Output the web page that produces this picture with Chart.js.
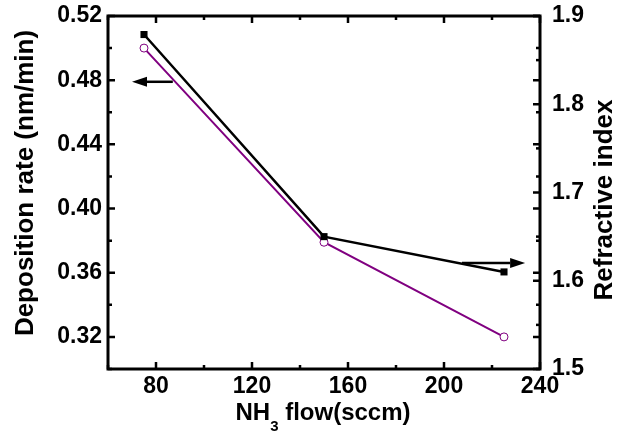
<!DOCTYPE html>
<html>
<head>
<meta charset="utf-8">
<script src="https://cdn.jsdelivr.net/npm/chart.js@4"></script>
<style>
    html, body { margin: 0; padding: 0; background: #fff; }
    #wrap { width: 633px; height: 438px; position: relative; }
</style>
</head>
<body>
<div id="wrap"><canvas id="rateChart"></canvas></div>
<script>
// NH3 flow (sccm)
const flow = [75, 150, 225];
// left axis: deposition rate (nm/min)
const depositionRate = [0.50, 0.379, 0.32];
// right axis: refractive index
const refractiveIndex = [1.879, 1.65, 1.61];

// arrows pointing to the axis each series belongs to
const leftArrow = { from: 87, to: 70, y: 0.479 };
const rightArrow = { from: 207.5, to: 233.8, y: 1.62 };

const fontFamily = "'Liberation Sans', Arial, sans-serif";

const frameAndTicks = {
    id: 'frameAndTicks',
    afterDatasetsDraw(chart) {
        const ctx = chart.ctx;
        const area = chart.chartArea;
        const xs = chart.scales.x, ys = chart.scales.y, ys1 = chart.scales.y1;
        ctx.save();
        ctx.strokeStyle = '#000';
        ctx.lineWidth = 2.5;
        ctx.lineCap = 'butt';

        const major = 7, minor = 4;
        // x ticks: bottom and mirrored top
        xs.ticks.forEach(t => {
            const px = xs.getPixelForValue(t.value);
            const len = Math.round(t.value) % 40 === 0 ? major : minor;
            ctx.beginPath();
            ctx.moveTo(px, area.bottom); ctx.lineTo(px, area.bottom - len);
            ctx.moveTo(px, area.top); ctx.lineTo(px, area.top + len);
            ctx.stroke();
        });
        // left ticks, mirrored on the right side as well
        ys.ticks.forEach(t => {
            const py = ys.getPixelForValue(t.value);
            const len = Math.round(t.value * 100) % 4 === 0 ? major : minor;
            ctx.beginPath();
            ctx.moveTo(area.left, py); ctx.lineTo(area.left + len, py);
            ctx.moveTo(area.right, py); ctx.lineTo(area.right - len, py);
            ctx.stroke();
        });
        // right axis ticks
        ys1.ticks.forEach(t => {
            const py = ys1.getPixelForValue(t.value);
            const len = Math.round(t.value * 100) % 10 === 0 ? major : minor;
            ctx.beginPath();
            ctx.moveTo(area.right, py); ctx.lineTo(area.right - len, py);
            ctx.stroke();
        });

        // frame
        ctx.lineWidth = 3;
        ctx.strokeRect(area.left, area.top, area.right - area.left, area.bottom - area.top);

        // arrows
        const drawArrow = (arrow, yScale) => {
            const x0 = xs.getPixelForValue(arrow.from);
            const x1 = xs.getPixelForValue(arrow.to);
            const y = yScale.getPixelForValue(arrow.y);
            const dir = Math.sign(x1 - x0);
            const head = 15, half = 5;
            ctx.lineWidth = 2.5;
            ctx.beginPath();
            ctx.moveTo(x0, y); ctx.lineTo(x1 - dir * head, y);
            ctx.stroke();
            ctx.fillStyle = '#000';
            ctx.beginPath();
            ctx.moveTo(x1, y);
            ctx.lineTo(x1 - dir * head, y - half);
            ctx.lineTo(x1 - dir * head, y + half);
            ctx.closePath();
            ctx.fill();
        };
        drawArrow(leftArrow, ys);
        drawArrow(rightArrow, ys1);

        // axis titles (right one reads bottom to top, like the left one)
        ctx.fillStyle = '#000';
        ctx.textAlign = 'center';
        ctx.textBaseline = 'middle';
        ctx.font = 'bold 26px ' + fontFamily;
        ctx.save();
        ctx.translate(26, 183);
        ctx.rotate(-Math.PI / 2);
        ctx.fillText('Deposition rate (nm/min)', 0, 0);
        ctx.restore();
        ctx.save();
        ctx.translate(605, 200);
        ctx.rotate(-Math.PI / 2);
        ctx.fillText('Refractive index', 0, 0);
        ctx.restore();

        // x title with subscript 3
        ctx.textBaseline = 'alphabetic';
        ctx.textAlign = 'left';
        const mainFont = 'bold 24px ' + fontFamily;
        const subFont = 'bold 15px ' + fontFamily;
        ctx.font = mainFont;
        const wNH = ctx.measureText('NH').width;
        const wRest = ctx.measureText(' flow(sccm)').width;
        ctx.font = subFont;
        const wSub = ctx.measureText('3').width;
        let x = 323 - (wNH + wSub + wRest) / 2;
        const base = 420;
        ctx.font = mainFont;
        ctx.fillText('NH', x, base);
        x += wNH;
        ctx.font = subFont;
        ctx.fillText('3', x, base + 11);
        x += wSub;
        ctx.font = mainFont;
        ctx.fillText(' flow(sccm)', x, base);
        ctx.restore();
    }
};

const ctx = document.getElementById('rateChart').getContext('2d');

const noEdgePadding = s => {
    s.paddingTop = 0;
    s.paddingBottom = 0;
    s.paddingLeft = 0;
    s.paddingRight = 0;
};

new Chart(ctx, {
    type: 'line',
    data: {
        datasets: [{
            label: 'Refractive index',
            data: flow.map((f, i) => ({ x: f, y: refractiveIndex[i] })),
            yAxisID: 'y1',
            borderColor: '#000',
            backgroundColor: '#000',
            borderWidth: 2.5,
            pointStyle: 'rect',
            pointRadius: 5,
            pointBorderWidth: 0,
            pointBackgroundColor: '#000'
        },
        {
            label: 'Deposition rate',
            data: flow.map((f, i) => ({ x: f, y: depositionRate[i] })),
            yAxisID: 'y',
            borderColor: '#800080',
            backgroundColor: '#fff',
            borderWidth: 2,
            pointStyle: 'circle',
            pointRadius: 4,
            pointBorderWidth: 1,
            pointBorderColor: '#800080',
            pointBackgroundColor: '#fff'
        }]
    },
    options: {
        responsive: true,
        maintainAspectRatio: false,
        animation: false,
        events: [],
        layout: { padding: { top: 16, left: 0, right: 0, bottom: 0 } },
        plugins: {
            legend: { display: false },
            tooltip: { enabled: false }
        },
        scales: {
            x: {
                type: 'linear',
                min: 60,
                max: 240,
                afterFit: s => { s.height = 69; noEdgePadding(s); },
                grid: { display: false, drawTicks: false },
                border: { display: false },
                ticks: {
                    stepSize: 20,
                    autoSkip: false,
                    maxRotation: 0,
                    padding: 4,
                    color: '#000',
                    font: { family: fontFamily, size: 23, weight: 'bold' },
                    callback: v => Math.round(v) % 40 === 0 ? String(Math.round(v)) : ''
                }
            },
            y: {
                position: 'left',
                min: 0.30,
                max: 0.52,
                afterFit: s => { s.width = 108; noEdgePadding(s); },
                grid: { display: false, drawTicks: false },
                border: { display: false },
                ticks: {
                    stepSize: 0.02,
                    autoSkip: false,
                    padding: 6,
                    color: '#000',
                    font: { family: fontFamily, size: 23, weight: 'bold' },
                    callback: v => Math.round(v * 100) % 4 === 0 ? v.toFixed(2) : ''
                }
            },
            y1: {
                position: 'right',
                min: 1.5,
                max: 1.9,
                afterFit: s => { s.width = 93; noEdgePadding(s); },
                grid: { display: false, drawTicks: false },
                border: { display: false },
                ticks: {
                    stepSize: 0.05,
                    autoSkip: false,
                    padding: 12,
                    color: '#000',
                    font: { family: fontFamily, size: 23, weight: 'bold' },
                    callback: v => Math.round(v * 100) % 10 === 0 ? v.toFixed(1) : ''
                }
            }
        }
    },
    plugins: [frameAndTicks]
});
</script>
</body>
</html>
